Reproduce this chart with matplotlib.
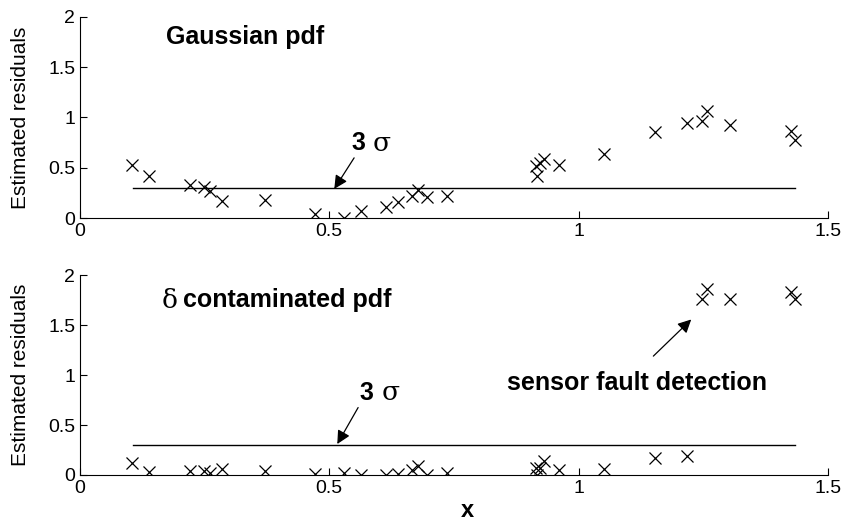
import matplotlib
matplotlib.use("Agg")
import matplotlib.pyplot as plt

plt.rcParams['font.family'] = ['Liberation Sans', 'DejaVu Sans']

# x positions of the samples (shared by both panels)
x_vals = [0.105, 0.139, 0.220, 0.248, 0.261, 0.284, 0.371, 0.472, 0.529, 0.563,
          0.613, 0.637, 0.666, 0.678, 0.695, 0.736,
          0.914, 0.916, 0.922, 0.931, 0.960, 1.051, 1.154, 1.217, 1.248, 1.257,
          1.304, 1.426, 1.435]

# residuals with Gaussian pdf
res_gauss = [0.526, 0.417, 0.328, 0.305, 0.270, 0.169, 0.179, 0.043, 0.003, 0.073,
             0.106, 0.159, 0.218, 0.278, 0.212, 0.218,
             0.516, 0.417, 0.543, 0.583, 0.529, 0.639, 0.851, 0.946, 0.966, 1.060,
             0.920, 0.864, 0.775]

# residuals with delta contaminated pdf
res_delta = [0.117, 0.033, 0.043, 0.043, 0.023, 0.057, 0.043, 0.010, 0.023, 0.000,
             0.000, 0.010, 0.050, 0.090, 0.000, 0.023,
             0.067, 0.000, 0.067, 0.137, 0.050, 0.063, 0.167, 0.193, 1.760, 1.860,
             1.760, 1.827, 1.757]

# 3 sigma threshold
thr_x = [0.106, 1.434]
thr_y = [0.3, 0.3]

fig = plt.figure(figsize=(8.45, 5.23), dpi=100)
ax1 = fig.add_axes([0.0947, 0.583, 0.885, 0.385])
ax2 = fig.add_axes([0.0947, 0.0918, 0.885, 0.382])

for ax, res in [(ax1, res_gauss), (ax2, res_delta)]:
    ax.plot(x_vals, res, 'x', color='black', markersize=9, markeredgewidth=0.9)
    ax.plot(thr_x, thr_y, color='black', linewidth=1.0)
    ax.set_xlim(0, 1.5)
    ax.set_ylim(0, 2)
    ax.set_xticks([0, 0.5, 1, 1.5])
    ax.set_xticklabels(['0', '0.5', '1', '1.5'])
    ax.set_yticks([0, 0.5, 1, 1.5, 2])
    ax.set_yticklabels(['0', '0.5', '1', '1.5', '2'])
    ax.spines['top'].set_visible(False)
    ax.spines['right'].set_visible(False)
    ax.tick_params(direction='in', length=5, labelsize=14, width=0.8)
    ax.set_ylabel('Estimated residuals', fontsize=15)
    ax.yaxis.set_label_coords(-0.067, 0.5)

# top panel annotations
ax1.text(0.172, 1.80, 'Gaussian pdf', fontsize=18, fontweight='bold', va='center')
ax1.annotate('3', xy=(0.51, 0.29), xytext=(0.545, 0.745), fontsize=18,
             fontweight='bold', va='center',
             arrowprops=dict(arrowstyle='-|>', color='black', lw=0.9,
                             mutation_scale=20, shrinkA=0, shrinkB=0,
                             relpos=(0.3, 0.0)))
ax1.text(0.587, 0.745, 'σ', fontsize=19, family='DejaVu Serif', va='center')

# bottom panel annotations
ax2.text(0.164, 1.75, 'δ', fontsize=19, family='DejaVu Serif', va='center')
ax2.text(0.206, 1.75, 'contaminated pdf', fontsize=18, fontweight='bold', va='center')
ax2.annotate('3', xy=(0.516, 0.31), xytext=(0.561, 0.823), fontsize=18,
             fontweight='bold', va='center',
             arrowprops=dict(arrowstyle='-|>', color='black', lw=0.9,
                             mutation_scale=20, shrinkA=0, shrinkB=0,
                             relpos=(0.0, 0.0)))
ax2.text(0.605, 0.823, 'σ', fontsize=19, family='DejaVu Serif', va='center')
ax2.annotate('', xy=(1.226, 1.557), xytext=(1.150, 1.19),
             arrowprops=dict(arrowstyle='-|>', color='black', lw=0.9,
                             mutation_scale=20, shrinkA=0, shrinkB=0))
ax2.text(0.856, 0.917, 'sensor fault detection', fontsize=18, fontweight='bold',
         va='center')

ax2.set_xlabel('x', fontsize=17, fontweight='bold')
ax2.xaxis.set_label_coords(0.518, -0.122)

fig.savefig('out.png', dpi=100)
